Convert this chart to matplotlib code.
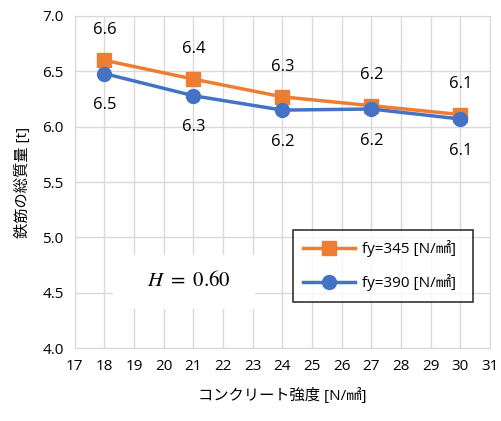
import matplotlib
matplotlib.use("Agg")
import matplotlib.pyplot as plt

plt.rcParams['font.family'] = ['Open Sans', 'Noto Sans CJK JP', 'DejaVu Sans']
plt.rcParams['mathtext.fontset'] = 'stix'

# データ
fc = [18, 21, 24, 27, 30]
w345 = [6.60, 6.43, 6.27, 6.19, 6.11]
w390 = [6.48, 6.28, 6.15, 6.16, 6.07]
lbl345 = ["6.6", "6.4", "6.3", "6.2", "6.1"]
lbl390 = ["6.5", "6.3", "6.2", "6.2", "6.1"]
xticks = list(range(17, 32))
yticks = [4.0, 4.5, 5.0, 5.5, 6.0, 6.5, 7.0]

orange = "#ED7D31"
blue = "#4472C4"

fig = plt.figure(figsize=(5.02, 4.21), dpi=100)
ax = fig.add_axes([0.149, 0.173, 0.827, 0.789])

ax.plot(fc, w345, color=orange, lw=2.5, marker='s', ms=10, label="fy=345 [N/㎟]", zorder=3)
ax.plot(fc, w390, color=blue, lw=2.5, marker='o', ms=10, label="fy=390 [N/㎟]", zorder=3)

for x, y, t in zip(fc, w345, lbl345):
    ax.annotate(t, (x, y), xytext=(0, 16), textcoords='offset points',
                ha='center', va='bottom', fontsize=12)
for x, y, t in zip(fc, w390, lbl390):
    ax.annotate(t, (x, y), xytext=(0, -17), textcoords='offset points',
                ha='center', va='top', fontsize=12)

ax.set_xlim(17, 31)
ax.set_ylim(4.0, 7.0)
ax.set_xticks(xticks)
ax.set_yticks(yticks)
ax.set_yticklabels(["%.1f" % v for v in yticks])
ax.tick_params(length=0, labelsize=11, pad=8)
ax.grid(True, color="#d9d9d9", lw=1)
ax.set_axisbelow(True)
for s in ax.spines.values():
    s.set_color("#d9d9d9")

ax.set_xlabel("コンクリート強度 [N/㎟]", fontsize=11, labelpad=10)
ax.set_ylabel("鉄筋の総質量 [t]", fontsize=11, labelpad=8)

# H の注記（白い箱で格子を隠す）
ax.add_patch(plt.Rectangle((0.092, 0.117), 0.342, 0.163, transform=ax.transAxes,
                           facecolor='white', edgecolor='none', zorder=2))
ax.text(0.275, 0.205, r"$H\ =\ 0.60$", transform=ax.transAxes, fontsize=15,
        ha='center', va='center', zorder=4)

leg = ax.legend(loc='lower left', bbox_to_anchor=(0.525, 0.139, 0.435, 0.236),
                mode='expand', fontsize=11, frameon=True, fancybox=False,
                handlelength=3.4, handletextpad=0.4, labelspacing=1.1, borderpad=0.7,
                borderaxespad=0)
leg.get_frame().set_edgecolor('black')
leg.get_frame().set_linewidth(1.2)

fig.savefig("out.png", dpi=100)
